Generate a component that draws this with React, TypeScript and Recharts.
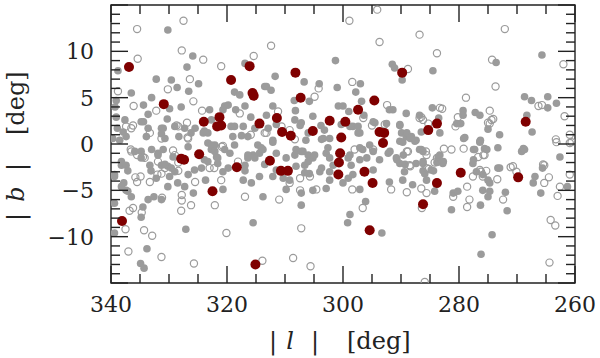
import { ReferenceArea, Scatter, ScatterChart, XAxis, YAxis } from "recharts";

// galactic longitude / latitude (deg)
const filledPts: [number, number][] = [
  [330.2, 12.3], [325.9, 9.5], [326.9, 8.3], [338.8, 7.9], [332.2, 7.0], [329.6, 6.9], [328.6, 6.1], [326.6, 5.7],
  [324.9, 6.5], [336.5, 5.5], [333.0, 5.0], [334.4, 4.2], [339.3, 4.0], [339.1, 4.7], [329.9, 3.8], [327.9, 4.0],
  [333.6, 3.2], [330.3, 2.7], [334.4, 2.4], [337.6, 2.6], [339.1, 2.9], [338.9, 1.7], [337.9, 1.3], [337.4, 0.8],
  [339.7, 0.6], [338.5, 0.4], [331.3, 1.7], [333.9, 0.8], [328.3, 0.8], [325.5, 1.7], [327.3, 1.7], [322.7, 2.6],
  [320.4, 4.1], [319.8, 4.2], [320.7, 3.7], [318.7, 5.6], [317.8, 5.3], [316.9, 4.1], [318.5, 3.7], [318.7, 1.9],
  [317.2, 1.9], [315.9, 2.9], [313.5, 6.2], [316.9, 8.7], [324.1, 1.2], [323.3, 1.2], [319.0, 0.8], [317.5, 0.9],
  [323.0, 3.7],
  [338.2, -2.3], [337.4, -2.3], [339.4, -3.5], [337.8, -4.2], [337.4, -5.0], [336.5, -5.7], [338.2, -4.6], [337.1, -5.1],
  [339.4, -6.4], [334.8, -7.9], [334.5, -6.8], [333.6, -6.0], [332.6, -5.7], [331.3, -6.0], [339.4, -9.6], [333.8, -11.3],
  [334.9, -12.9], [334.3, -13.4], [327.1, -9.2], [315.5, -8.5], [325.8, -5.3], [323.7, -3.9], [320.7, -4.9], [313.8, -5.7],
  [315.8, -4.2], [314.4, -3.5], [317.2, -3.9], [319.5, -1.0],
  [333.0, -0.6], [331.9, -1.0], [331.0, -0.6], [329.3, -1.4], [331.3, -2.3], [330.2, -2.4], [329.0, -3.0], [329.9, -3.5],
  [328.5, -4.2], [326.7, -3.3], [325.6, -2.8], [324.4, -2.6], [323.9, -1.7], [322.7, -0.6], [322.1, -0.1], [321.8, -1.4],
  [321.6, -2.1], [320.7, -3.0], [319.8, -2.6], [316.9, -2.3], [316.4, -1.5], [315.5, -1.2], [314.4, -1.0], [313.8, -0.6],
  [314.7, -0.1], [318.7, -0.1], [323.3, 0.1], [326.7, -0.3], [334.8, -0.8], [333.3, -2.3], [332.2, -3.7], [330.2, -4.6],
  [327.3, -4.6],
  [301.3, 9.0], [311.7, 7.3], [306.7, 6.7], [304.1, 6.5], [313.2, 6.2], [312.4, 5.8], [301.0, 6.1], [297.8, 5.6],
  [297.0, 6.5], [291.5, 8.6], [291.1, 8.2], [289.8, 6.9], [308.4, 4.7], [305.8, 4.6], [300.8, 4.1], [300.0, 4.1],
  [296.8, 4.6], [312.1, 4.1], [308.2, 3.6], [299.0, 3.5], [296.4, 3.1], [292.0, 3.7], [291.4, 3.7], [289.1, 3.3],
  [286.8, 3.1], [313.2, 3.1], [305.2, 3.0], [308.3, 2.6], [307.4, 2.0], [303.8, 2.0], [303.2, 1.5], [298.3, 1.9],
  [297.4, 1.9], [294.5, 2.3], [290.2, 2.0], [289.9, 1.2], [289.1, 0.8], [288.2, 0.8], [287.4, 0.4], [297.1, 1.2],
  [302.3, 0.6], [303.4, 0.6], [306.4, 0.4], [312.1, 0.4], [286.5, 1.3],
  [307.2, -6.6], [298.8, -7.6], [299.2, -8.5], [296.1, -6.2], [293.3, -9.6], [309.8, -4.9], [307.2, -5.3], [305.2, -5.0],
  [302.9, -4.8], [297.1, -4.9], [292.0, -4.1], [288.0, -4.4], [289.7, -3.9],
  [312.1, 0.2], [311.5, -1.0], [309.8, -1.5], [308.1, -0.6], [306.9, -0.8], [306.0, -1.2], [305.2, -1.5], [306.6, -2.3],
  [308.1, -2.4], [305.8, -3.2], [304.0, -3.0], [302.3, -3.0], [302.3, -3.9], [300.0, -4.2], [299.1, -3.7], [298.3, -3.3],
  [302.9, -1.0], [302.3, -1.5], [301.7, -2.3], [299.1, -1.5], [298.6, -2.3], [297.1, -1.7], [296.6, -0.6], [295.4, -0.1],
  [294.8, -2.8], [293.7, -1.7], [292.2, -1.0], [290.8, -1.5], [290.2, -2.1], [289.4, -3.0], [287.4, -2.1], [286.8, -0.6],
  [289.7, 0.2], [309.2, -3.9], [310.3, -3.7], [312.1, -3.5], [311.5, -2.8],
  [284.5, 7.9], [273.6, 8.8], [265.7, 9.6], [284.6, 3.9], [279.3, 3.6], [279.3, 3.1], [277.2, 3.4], [276.4, 3.1],
  [268.7, 5.1], [267.5, 4.7], [264.7, 5.1], [263.2, 4.4], [264.7, 3.9], [283.5, 2.8], [279.7, 2.2], [275.0, 1.6],
  [268.3, 3.1], [267.4, 1.3], [273.0, 1.0], [276.3, 0.4], [279.0, 0.7], [283.3, 1.2],
  [286.5, -0.6], [286.2, -2.1], [285.9, -3.2], [284.8, -2.8], [285.6, -3.9], [284.2, -5.1], [283.9, -4.4], [283.6, -1.4],
  [282.8, -2.1], [281.3, -7.1], [280.2, -5.1], [281.0, -5.3], [277.3, -0.6], [275.6, -0.5], [276.4, 0.2], [273.3, -0.4],
  [277.6, -2.1], [277.0, -3.0], [275.9, -3.3], [275.0, -3.9], [274.7, -4.2], [275.9, -5.0], [274.7, -5.1], [275.0, -5.7],
  [276.3, -6.6], [273.3, -2.6], [272.0, -5.2], [271.7, -7.2], [274.3, -9.8], [276.2, -11.9], [269.2, -0.8], [268.9, -0.5],
  [267.2, -4.2], [266.9, -3.5], [265.9, -5.3], [265.6, -2.6], [262.6, -1.4], [261.3, -4.6],
  [334.8, 2.4], [333.6, 1.7], [331.0, 1.7], [331.3, 1.1], [329.0, 1.9], [330.7, 0.6], [326.2, 1.2], [323.9, 1.4],
  [319.3, 1.9], [316.4, 0.8], [315.2, 1.7], [312.9, 1.7], [311.5, 2.1], [307.2, 2.3], [306.0, 1.2], [303.7, 0.5],
  [300.3, 2.1],
  [338.2, -1.9], [335.9, -0.8], [334.8, -1.5], [331.9, -1.2], [330.7, -2.2], [329.6, -2.6], [333.1, -2.9], [337.1, -2.9],
  [339.4, -3.3], [322.7, -0.1], [322.1, -0.8], [321.6, -1.5], [323.3, -1.9], [320.4, -0.6], [316.4, -1.2], [315.2, -1.5],
  [314.1, -0.4], [313.5, -2.2], [316.9, -2.9], [308.3, -1.2], [307.2, -0.8], [306.0, -1.9], [304.9, -1.2], [303.7, -2.6],
  [306.6, -3.1], [302.6, -0.4],
  [298.8, 1.9], [297.4, 1.2], [294.8, 2.4], [292.5, 2.2], [290.2, 2.1], [289.0, 1.2], [288.4, 0.6], [287.6, 0.3],
  [290.2, 0.3], [280.4, 2.2],
  [298.8, -1.2], [297.1, -0.4], [295.9, -1.5], [294.8, -0.8], [291.9, -0.8], [290.7, -1.7], [289.6, -1.2], [289.3, -2.2],
  [286.2, -0.8], [286.2, -1.9], [283.3, -1.2], [283.8, -2.0], [282.7, -1.9], [279.2, 0.6], [277.5, -0.6], [277.5, -1.7],
  [276.4, 0.3], [275.2, -0.6], [268.7, -0.6], [273.0, -2.6], [286.2, -2.9], [284.4, -2.9],
];

const openPts: [number, number][] = [
  [335.5, 12.4], [327.5, 13.3], [327.8, 10.1], [335.4, 9.2], [324.1, 9.1], [321.0, 8.4], [315.4, 9.5], [326.4, 7.0],
  [330.2, 5.9], [338.8, 5.7], [325.8, 4.6], [336.1, 4.1], [332.2, 3.6], [324.3, 3.6], [336.2, 2.0], [333.3, 1.2],
  [331.3, 0.6], [326.8, 0.7], [328.7, 2.0], [326.9, 2.3], [317.8, 3.3], [315.9, 1.0],
  [336.6, -0.6], [335.5, -1.2], [334.5, -1.4], [320.9, -0.3], [329.3, -0.7], [335.8, -3.6], [334.9, -3.5], [335.5, -4.1],
  [333.3, -4.1], [332.0, -3.3], [331.3, -3.2], [330.7, -2.6], [323.0, -2.6], [322.2, -2.6], [325.5, -4.1], [321.0, -3.9],
  [327.8, -5.5], [327.8, -6.1], [327.9, -7.2], [326.2, -6.6], [331.2, -5.8], [322.1, -6.6], [336.8, -7.2], [336.2, -6.9],
  [337.5, -9.2], [334.3, -9.3], [332.9, -9.9], [337.0, -11.6], [331.3, -12.2], [325.7, -12.9], [320.1, -9.6], [316.9, -5.7],
  [313.9, -12.6], [334.7, -7.4],
  [312.4, 10.6], [298.9, 13.3], [294.1, 14.5], [293.7, 11.0], [286.8, 11.8], [288.8, 8.1], [298.4, 6.7], [304.2, 6.0],
  [304.9, 5.1], [292.4, 4.2], [311.2, 3.5], [313.2, 1.2], [309.2, 1.5], [286.8, 2.8], [295.0, 2.0],
  [311.0, -6.0], [307.2, -9.1], [308.6, -12.3], [305.6, -13.2], [296.6, -6.9], [298.4, -4.9], [291.7, -4.9], [289.0, -5.2],
  [304.6, -4.9], [307.4, -5.0], [309.2, -4.2], [307.4, -3.7], [305.7, -3.5], [294.8, -0.6], [288.5, -2.3], [298.0, -0.6],
  [286.5, -4.8], [288.8, -0.8],
  [283.8, 9.8], [272.1, 12.4], [274.3, 9.1], [273.7, 6.2], [278.8, 5.0], [262.0, 8.6], [283.3, 3.9], [282.9, 3.8],
  [286.5, 2.9], [280.2, 2.9], [274.7, 3.6], [274.1, 2.7], [274.7, 2.2], [280.6, 1.9], [266.3, 4.1], [265.7, 4.2],
  [261.8, 3.0], [263.3, 0.5], [260.9, 1.0], [285.3, 2.2],
  [282.6, -0.5], [281.3, -0.6], [279.2, -0.5], [285.6, -1.2], [284.2, -2.0], [285.6, -2.6], [285.2, -2.7], [285.6, -5.3],
  [277.6, -3.5], [276.2, -3.0], [275.3, -2.9], [275.9, -3.5], [276.7, -1.4], [275.6, -1.2], [278.6, -4.6], [281.0, -5.7],
  [278.2, -6.0], [278.6, -6.8], [273.4, -3.8], [272.4, -6.0], [270.7, -2.4], [270.1, -3.0], [265.3, -2.3], [264.5, -3.6],
  [265.3, -4.2], [262.6, -4.6], [263.0, -5.6], [260.9, -3.3], [264.2, -8.2], [263.4, -8.8], [264.4, -12.8], [285.9, -14.9],
  [263.2, 0.2], [260.6, 0.2], [286.4, -6.9],
  [336.5, 1.7], [337.4, 1.9], [328.4, 1.9], [320.7, -0.2], [329.0, -1.2], [328.4, -2.0], [331.9, -1.9], [336.5, -0.8],
  [334.2, -1.5], [318.1, -1.9], [313.5, 1.2], [310.6, 1.9], [308.3, 0.5], [328.4, -2.9], [326.7, 0.6],
  [296.5, 2.8], [292.8, 2.1], [286.2, 2.6], [275.0, 2.3], [274.4, 2.6], [275.8, -1.2], [285.7, -0.8], [289.0, -0.8],
  [283.8, -1.5], [288.4, -2.4], [276.4, -2.8], [271.1, -2.5], [265.5, -2.2], [260.9, 0.1],
];

const redPts: [number, number][] = [
  [336.9, 8.3], [330.9, 4.3], [324.0, 2.4], [321.3, 2.9], [321.0, 2.0], [321.7, 1.9], [319.3, 6.9], [316.1, 8.4],
  [315.6, 5.5], [315.4, 5.2], [314.4, 2.2], [327.4, -1.7], [327.9, -1.6], [324.8, -1.1], [318.3, -2.5], [322.5, -5.1],
  [338.1, -8.3], [315.1, -13.0], [312.6, -1.8], [308.2, 7.7], [307.3, 5.0], [289.8, 7.7], [294.6, 4.7], [297.4, 3.7],
  [311.4, 2.8], [302.3, 2.5], [299.6, 2.4], [305.2, 1.4], [310.5, 1.3], [309.0, 0.9], [300.3, 0.7], [293.7, 1.3],
  [292.9, 1.2], [293.1, 0.1], [310.7, -2.9], [309.5, -2.9], [300.5, -1.0], [300.7, -2.0], [300.8, -3.3], [296.3, -3.0],
  [294.9, -4.2], [295.4, -9.3], [286.2, -6.5], [285.3, 1.5], [283.8, 2.2], [268.5, 2.4], [283.8, -4.2], [279.7, -3.1],
  [269.8, -3.6],
];

const xMajor = [340, 320, 300, 280, 260];
const yMajor = [10, 5, 0, -5, -10];
const xTicks = Array.from({ length: 17 }, (_, i) => 260 + i * 5);
const yTicks = Array.from({ length: 31 }, (_, i) => -15 + i);

const PLOT_LEFT = 111;
const PLOT_RIGHT = 575;
const PLOT_TOP = 5;
const PLOT_BOTTOM = 283;

const FONT = "'DejaVu Serif', serif";
const INK = "#222";
const GRAY = "#9b9b9b";
const RED = "#7f0000";

const toRows = (pts: [number, number][]) => pts.map(([l, b]) => ({ l, b }));

function fmt(v: number) {
  return v < 0 ? `\u2212${Math.abs(v)}` : `${v}`;
}

function XTick(props: any) {
  const { x, payload } = props;
  const v = payload.value;
  const major = xMajor.includes(v);
  const len = major ? 17 : 9;
  return (
    <g>
      <line x1={x} x2={x} y1={PLOT_BOTTOM} y2={PLOT_BOTTOM - len} stroke={INK} strokeWidth={1.4} />
      <line x1={x} x2={x} y1={PLOT_TOP} y2={PLOT_TOP + len} stroke={INK} strokeWidth={1.4} />
      {major && (
        <text x={x} y={312} textAnchor="middle" fontFamily={FONT} fontSize={22} fill={INK}>
          {fmt(v)}
        </text>
      )}
    </g>
  );
}

function YTick(props: any) {
  const { y, payload } = props;
  const v = payload.value;
  const major = v % 5 === 0;
  const len = major ? 17 : 9;
  return (
    <g>
      <line x1={PLOT_LEFT} x2={PLOT_LEFT + len} y1={y} y2={y} stroke={INK} strokeWidth={1.4} />
      <line x1={PLOT_RIGHT} x2={PLOT_RIGHT - len} y1={y} y2={y} stroke={INK} strokeWidth={1.4} />
      {yMajor.includes(v) && (
        <text x={94} y={y + 8} textAnchor="end" fontFamily={FONT} fontSize={22} fill={INK}>
          {fmt(v)}
        </text>
      )}
    </g>
  );
}

const dotFilled = (p: any) => <circle cx={p.cx} cy={p.cy} r={3.8} fill={GRAY} />;
const dotOpen = (p: any) => <circle cx={p.cx} cy={p.cy} r={3.6} fill="none" stroke={GRAY} strokeWidth={1.2} />;
const dotRed = (p: any) => <circle cx={p.cx} cy={p.cy} r={5} fill={RED} />;

export default function App() {
  return (
    <div style={{ position: "absolute", left: 0, top: 0, width: 600, height: 358, background: "#fff" }}>
      <ScatterChart width={600} height={358} margin={{ top: PLOT_TOP, right: 600 - PLOT_RIGHT, bottom: 0, left: 0 }}>
        <XAxis
          type="number"
          dataKey="l"
          domain={[260, 340]}
          reversed
          allowDataOverflow
          ticks={xTicks}
          interval={0}
          height={358 - PLOT_BOTTOM}
          axisLine={false}
          tickLine={false}
          tick={XTick}
        />
        <YAxis
          type="number"
          dataKey="b"
          domain={[-15, 15]}
          allowDataOverflow
          ticks={yTicks}
          interval={0}
          width={PLOT_LEFT}
          axisLine={false}
          tickLine={false}
          tick={YTick}
        />
        <ReferenceArea x1={340} x2={260} y1={-15} y2={15} fill="none" fillOpacity={0} stroke={INK} strokeWidth={1.4} />
        <Scatter data={toRows(filledPts)} shape={dotFilled} isAnimationActive={false} />
        <Scatter data={toRows(openPts)} shape={dotOpen} isAnimationActive={false} />
        <Scatter data={toRows(redPts)} shape={dotRed} isAnimationActive={false} />
      </ScatterChart>
      <svg
        width={600}
        height={358}
        style={{ position: "absolute", left: 0, top: 0, pointerEvents: "none" }}
        fontFamily={FONT}
        fill={INK}
      >
        <g fontSize={24}>
          <text x={273} y={349} textAnchor="middle">|</text>
          <text x={290} y={349} textAnchor="middle" fontStyle="italic">l</text>
          <text x={315} y={349} textAnchor="middle">|</text>
          <text x={347} y={349}>[deg]</text>
        </g>
        <g fontSize={24} transform="translate(24,0) rotate(-90)">
          <text x={-217} y={0} textAnchor="middle">|</text>
          <text x={-194} y={0} textAnchor="middle" fontStyle="italic">b</text>
          <text x={-167} y={0} textAnchor="middle">|</text>
          <text x={-135} y={0}>[deg]</text>
        </g>
      </svg>
    </div>
  );
}
